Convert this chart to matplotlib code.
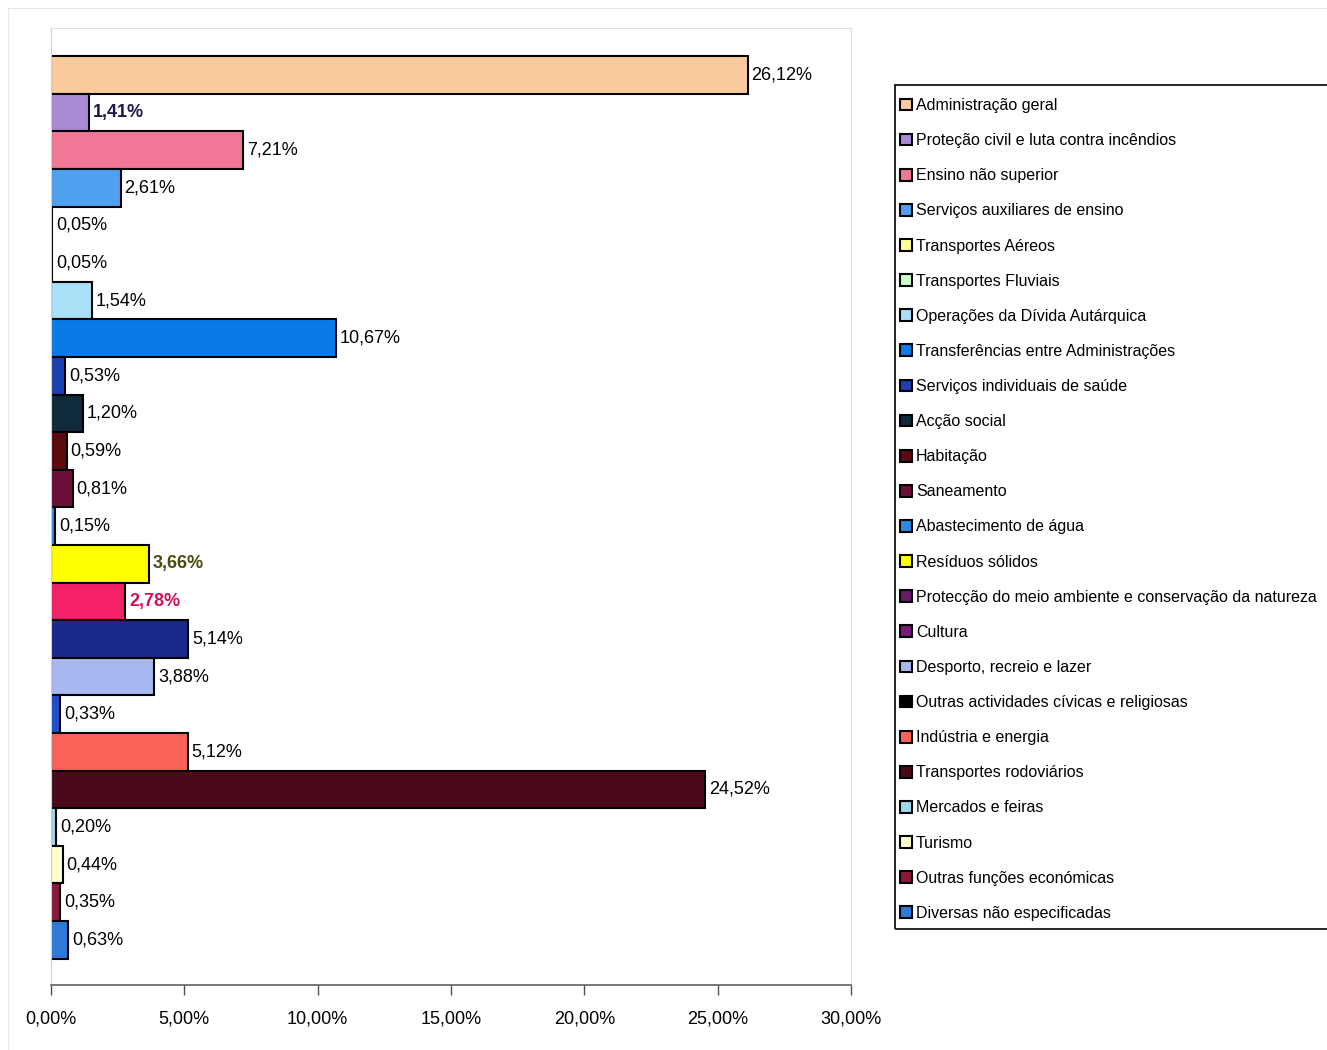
import matplotlib
matplotlib.use('Agg')
import matplotlib.pyplot as plt
from matplotlib.patches import Patch, Rectangle
from matplotlib.ticker import FuncFormatter

plt.rcParams['font.family'] = ['Liberation Sans', 'DejaVu Sans']

# dados
categorias = [
    'Administração geral',
    'Proteção civil e luta contra incêndios',
    'Ensino não superior',
    'Serviços auxiliares de ensino',
    'Transportes Aéreos',
    'Transportes Fluviais',
    'Operações da Dívida Autárquica',
    'Transferências entre Administrações',
    'Serviços individuais de saúde',
    'Acção social',
    'Habitação',
    'Saneamento',
    'Abastecimento de água',
    'Resíduos sólidos',
    'Protecção do meio ambiente e conservação da natureza',
    'Cultura',
    'Desporto, recreio e lazer',
    'Outras actividades cívicas e religiosas',
    'Indústria e energia',
    'Transportes rodoviários',
    'Mercados e feiras',
    'Turismo',
    'Outras funções económicas',
    'Diversas não especificadas',
]
valores = [26.12, 1.41, 7.21, 2.61, 0.05, 0.05, 1.54, 10.67, 0.53, 1.20, 0.59, 0.81,
           0.15, 3.66, 2.78, 5.14, 3.88, 0.33, 5.12, 24.52, 0.20, 0.44, 0.35, 0.63]

cores_barras = ['#F9CB9C', '#A98BD4', '#F07896', '#4FA0EE', '#FFFF99', '#CCFFCC',
                '#A8E0F8', '#0A7AE8', '#1E3FB0', '#0F2A3A', '#5C0A10', '#6E0F3A',
                '#2E8AE0', '#FFFF00', '#F5206A', '#1A2A8A', '#A8B8F0', '#1E50C8',
                '#FA6458', '#4A0A1A', '#A0D8F0', '#FFFFCC', '#8A1A3A', '#2E7AD8']
cores_legenda = list(cores_barras)
cores_legenda[14] = '#6A1A6A'
cores_legenda[15] = '#7A1A7A'
cores_legenda[17] = '#000000'

# rótulos especiais (negrito e cor)
destaque = {1: '#1A1A4A', 13: '#4A4A10', 14: '#D0105A'}

fig = plt.figure(figsize=(13.27, 10.5), dpi=100)

# moldura exterior ténue
fig.patches.append(Rectangle((8 / 1327, -0.01), 1.0, 1 - 8 / 1050 + 0.01,
                             transform=fig.transFigure, fill=False,
                             edgecolor='#E6E6E6', linewidth=0.8))

ax = fig.add_axes([51 / 1327, 1 - 985 / 1050, 800 / 1327, (985 - 28) / 1050])

pos = list(range(len(valores)))
ax.barh(pos, valores, height=1.0, color=cores_barras, edgecolor='black', linewidth=1.5)

for i, v in zip(pos, valores):
    txt = f'{v:.2f}%'.replace('.', ',')
    if i in destaque:
        ax.text(v + 0.15, i, txt, va='center', ha='left', fontsize=13,
                fontweight='bold', color=destaque[i])
    else:
        ax.text(v + 0.15, i, txt, va='center', ha='left', fontsize=13)

ax.set_xlim(0, 30)
ax.set_ylim(24.2, -1.25)
ax.set_xticks([0, 5, 10, 15, 20, 25, 30])
ax.xaxis.set_major_formatter(FuncFormatter(lambda x, p: f'{x:.2f}%'.replace('.', ',')))
ax.tick_params(axis='x', direction='out', length=7, width=1, pad=11, labelsize=13,
               color='#505050')
ax.set_yticks([])

ax.spines['left'].set_color('#D0D0D0')
ax.spines['bottom'].set_color('#606060')
ax.spines['bottom'].set_linewidth(1.2)
ax.spines['top'].set_color('#E0E0E0')
ax.spines['right'].set_color('#E0E0E0')

# legenda com moldura própria (sai pela borda direita, como no original)
fig.patches.append(Rectangle((895 / 1327, 1 - 929 / 1050), 0.4, (929 - 85) / 1050,
                             transform=fig.transFigure, fill=False,
                             edgecolor='black', linewidth=1.2))

handles = [Patch(facecolor=c, edgecolor='black', linewidth=1.5) for c in cores_legenda]
leg = fig.legend(handles, categorias, loc='upper left',
                 bbox_to_anchor=(900 / 1327, 1 - 98 / 1050),
                 fontsize=11.5, frameon=False,
                 handlelength=0.75, handleheight=0.75, handletextpad=0.25,
                 labelspacing=1.26, borderpad=0, borderaxespad=0)

plt.savefig('out.png', dpi=100)
